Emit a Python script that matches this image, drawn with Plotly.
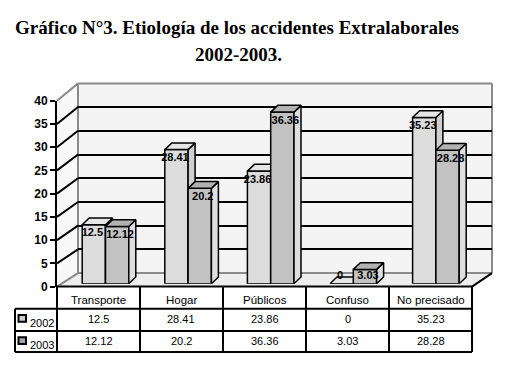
import plotly.graph_objects as go

# ---------------- data ----------------
categories = ["Transporte", "Hogar", "Públicos", "Confuso", "No precisado"]
series_names = ["2002", "2003"]
values_2002 = [12.5, 28.41, 23.86, 0, 35.23]
values_2003 = [12.12, 20.2, 36.36, 3.03, 28.28]
y_ticks = [0, 5, 10, 15, 20, 25, 30, 35, 40]
grid_levels = [5, 10, 15, 20, 25, 30, 35]
title_line1 = "Gráfico N°3. Etiología de los accidentes Extralaborales"
title_line2 = "2002-2003."

# ---------------- geometry (pixels of the 529x387 page) ----------------
W, H = 529, 387
OX, OY = 8, 8                      # the page body margin of the html
FW, FH = W - OX, H - OY
def fx(p): return (p - OX) / FW
def fy(p): return 1 - (p - OY) / FH

FRONT_X, BACK_X, BACK_R, FRONT_R = 57, 78, 492, 472
FRONT_Y0, FRONT_Y40 = 290, 97      # front-left axis
BACK_Y0, BACK_Y40 = 276, 79        # back wall
BAR_Y0, BAR_Y40 = 287, 91          # bar front faces
BAR_X0, BAR_X1 = 64.2, 477.2
YMAX = 40
slot_px = (BAR_X1 - BAR_X0) / len(categories)
bar_w = 23.3 / slot_px              # bar width in category units
dx = 7 / slot_px                    # depth offset in x units
dy = 7 / ((BAR_Y0 - BAR_Y40) / YMAX)  # depth offset in y units
label_shift = [-1.5 / slot_px, 3 / slot_px]

SANS = "Liberation Sans, Arial, sans-serif"
SERIF = "Liberation Serif, Times New Roman, serif"

colors = {
    "2002": dict(front="#dcdcdc", top="#e6e6e6", side="#cfcfcf", key="#cdcdcd"),
    "2003": dict(front="#c2c2c2", top="#b2b2b2", side="#dedede", key="#a4a4a4"),
}

fig = go.Figure()

# back-wall subplot (gridlines only)
fig.add_trace(go.Scatter(x=[0], y=[0], mode="markers", marker=dict(opacity=0),
                         hoverinfo="skip", showlegend=False, xaxis="x", yaxis="y"))

def faces(xc, vals):
    tx, ty, sx, sy = [], [], [], []
    for c, v in zip(xc, vals):
        l, r = c - bar_w / 2, c + bar_w / 2
        tx += [l, l + dx, r + dx, r, l, None]
        ty += [v, v + dy, v + dy, v, v, None]
        sx += [r, r + dx, r + dx, r, r, None]
        sy += [0, dy, v + dy, v, 0, None]
    return tx, ty, sx, sy

offsets = [-bar_w / 2, bar_w / 2]
axes_pairs = [("x2", "y2"), ("x3", "y3")]
all_vals = [values_2002, values_2003]
label_x, label_y, label_t = [], [], []
for si, (name, vals, off, (xa, ya)) in enumerate(zip(series_names, all_vals, offsets, axes_pairs)):
    xc = [i + off for i in range(len(categories))]
    col = colors[name]
    fig.add_trace(go.Bar(x=xc, y=vals, width=[bar_w] * len(vals), name=name,
                         marker=dict(color=col["front"], line=dict(color="black", width=1.5)),
                         xaxis=xa, yaxis=ya, showlegend=False, hoverinfo="skip"))
    tx, ty, sx, sy = faces(xc, vals)
    fig.add_trace(go.Scatter(x=sx, y=sy, mode="lines", fill="toself", fillcolor=col["side"],
                             line=dict(color="black", width=1.5), xaxis=xa, yaxis=ya,
                             showlegend=False, hoverinfo="skip"))
    fig.add_trace(go.Scatter(x=tx, y=ty, mode="lines", fill="toself", fillcolor=col["top"],
                             line=dict(color="black", width=1.5), xaxis=xa, yaxis=ya,
                             showlegend=False, hoverinfo="skip"))
    for c, v in zip(xc, vals):
        label_x.append(c + label_shift[si])
        label_y.append(max(v - 1.9, 1.5))
        label_t.append(f"{v:g}")

fig.add_trace(go.Scatter(x=label_x, y=label_y, text=label_t, mode="text",
                         textfont=dict(family=SANS, size=11, color="black", weight="bold"),
                         xaxis="x3", yaxis="y3", showlegend=False, hoverinfo="skip",
                         cliponaxis=False))

# front axis subplot
fig.add_trace(go.Scatter(x=[0], y=[0], mode="markers", marker=dict(opacity=0),
                         hoverinfo="skip", showlegend=False, xaxis="x4", yaxis="y4"))

hidden = dict(visible=False, showgrid=False, zeroline=False, fixedrange=True)
fig.update_layout(
    width=FW, height=FH, autosize=False,
    margin=dict(l=0, r=0, t=0, b=0),
    paper_bgcolor="white", plot_bgcolor="rgba(0,0,0,0)",
    barmode="overlay",
    xaxis=dict(domain=[fx(BACK_X), fx(BACK_R)], range=[0, 1], **hidden),
    yaxis=dict(domain=[fy(BACK_Y0), fy(BACK_Y40)], range=[0, YMAX], tickvals=grid_levels,
               showgrid=True, gridcolor="black", gridwidth=2, zeroline=False,
               showticklabels=False, ticks="", showline=False, fixedrange=True),
    xaxis2=dict(domain=[fx(BAR_X0), fx(BAR_X1)], range=[-0.5, len(categories) - 0.5], **hidden),
    yaxis2=dict(domain=[fy(BAR_Y0), fy(BAR_Y40)], range=[0, YMAX], anchor="x2", **hidden),
    xaxis3=dict(overlaying="x2", range=[-0.5, len(categories) - 0.5], anchor="y3", **hidden),
    yaxis3=dict(overlaying="y2", range=[0, YMAX], anchor="x3", **hidden),
    xaxis4=dict(domain=[fx(FRONT_X), fx(FRONT_R)], range=[0, 1], anchor="y4", **hidden),
    yaxis4=dict(domain=[fy(FRONT_Y0), fy(FRONT_Y40)], range=[0, YMAX], anchor="x4",
                tickvals=y_ticks, ticks="outside", ticklen=5, tickwidth=1.5, tickcolor="black",
                showline=True, linecolor="black", linewidth=2, showgrid=False, zeroline=False,
                tickfont=dict(family=SANS, size=12, color="black", weight="bold"),
                fixedrange=True),
)

def front_y(v): return FRONT_Y0 - v * (FRONT_Y0 - FRONT_Y40) / YMAX
def back_y(v): return BACK_Y0 - v * (BACK_Y0 - BACK_Y40) / YMAX

shapes = []
def poly(pts, fill, line="rgba(0,0,0,0)", lw=0, layer="below"):
    path = "M " + " L ".join(f"{fx(x):.5f},{fy(y):.5f}" for x, y in pts) + " Z"
    shapes.append(dict(type="path", xref="paper", yref="paper", path=path,
                       fillcolor=fill, line=dict(color=line, width=lw), layer=layer))
def seg(x0, y0, x1, y1, color="black", lw=2, layer="below"):
    shapes.append(dict(type="line", xref="paper", yref="paper", x0=fx(x0), y0=fy(y0),
                       x1=fx(x1), y1=fy(y1), line=dict(color=color, width=lw), layer=layer))

# walls and floor
poly([(BACK_X, BACK_Y40), (BACK_R, BACK_Y40), (BACK_R, BACK_Y0), (BACK_X, BACK_Y0)], "#f4f4f4")
poly([(FRONT_X, FRONT_Y40), (BACK_X, BACK_Y40), (BACK_X, BACK_Y0), (FRONT_X, FRONT_Y0)], "#f8f8f8")
poly([(FRONT_X, FRONT_Y0), (BACK_X, BACK_Y0), (BACK_R, BACK_Y0), (FRONT_R, FRONT_Y0)], "#eeeeee")
seg(BACK_X, BACK_Y40, BACK_R, BACK_Y40, "#8a8a8a", 2)
seg(BACK_X, BACK_Y40, BACK_X, BACK_Y0, "#8a8a8a", 2)
seg(BACK_R, BACK_Y40, BACK_R, BACK_Y0, "#8a8a8a", 2)
seg(BACK_X, BACK_Y0, BACK_R, BACK_Y0, "#8a8a8a", 2)
seg(FRONT_X, FRONT_Y40, BACK_X, BACK_Y40, "#8a8a8a", 2)
seg(FRONT_X, FRONT_Y0, BACK_X, BACK_Y0, "#8a8a8a", 2)
seg(FRONT_R, FRONT_Y0, BACK_R, BACK_Y0, "black", 2)
for v in grid_levels:
    seg(FRONT_X, front_y(v), BACK_X, back_y(v), "black", 2)

# data table
col_edges = [FRONT_X + i * (FRONT_R - FRONT_X) / len(categories) for i in range(len(categories) + 1)]
T_LEFT = 15
row_edges = [290, 313, 336, 358]
seg(FRONT_X, row_edges[0], FRONT_R, row_edges[0], "black", 2, "above")
for ry in row_edges[1:]:
    seg(T_LEFT, ry, FRONT_R, ry, "black", 2, "above")
for cx in col_edges:
    seg(cx, row_edges[0], cx, row_edges[-1], "black", 2, "above")
seg(T_LEFT, row_edges[1], T_LEFT, row_edges[-1], "black", 2, "above")

annotations = []
def text(x, y, s, size=12, family=SANS, weight="normal", xanchor="center"):
    annotations.append(dict(x=fx(x), y=fy(y), xref="paper", yref="paper", text=s,
                            showarrow=False, xanchor=xanchor, yanchor="middle",
                            font=dict(family=family, size=size, color="black", weight=weight)))

centers = [(col_edges[i] + col_edges[i + 1]) / 2 for i in range(len(categories))]
for c, cat in zip(centers, categories):
    text(c, 304, cat, 11.5)
row_text_y = [324, 347]
for ri, (name, vals) in enumerate(zip(series_names, all_vals)):
    for c, v in zip(centers, vals):
        text(c, row_text_y[ri], f"{v:g}", 11)
    text(28, row_text_y[ri] + 4, name, 11, xanchor="left")
    ky = row_text_y[ri] - 1
    shapes.append(dict(type="rect", xref="paper", yref="paper",
                       x0=fx(18.5), x1=fx(26), y0=fy(ky + 3.5), y1=fy(ky - 3.5),
                       fillcolor=colors[name]["key"], line=dict(color="black", width=2),
                       layer="above"))

# title
text(237, 21, "<b>" + title_line1 + "</b>", 19, SERIF)
text(238, 49, "<b>" + title_line2 + "</b>", 19, SERIF)

fig.update_layout(shapes=shapes, annotations=annotations)
fig.write_html("out.html")
